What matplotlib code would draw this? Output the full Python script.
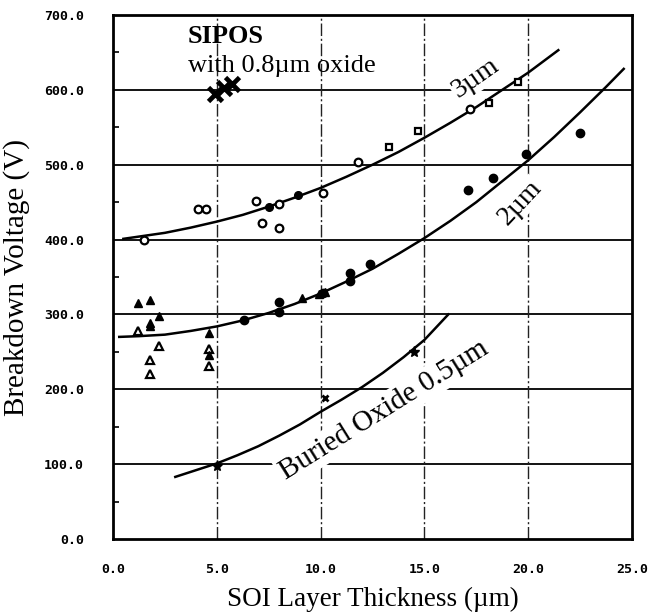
import matplotlib
matplotlib.use("Agg")
import matplotlib.pyplot as plt
from matplotlib.ticker import MultipleLocator

# ---- data ----
# 3 um buried oxide: open circles / squares
t3_circ_x = [1.5, 4.1, 4.5, 6.9, 7.2, 8.0, 8.0, 10.1, 11.8, 17.2]
t3_circ_y = [400, 441, 441, 451, 422, 447, 415, 462, 504, 575]
t3_fill_x = [7.5, 8.9]
t3_fill_y = [444, 459]
t3_sq_x = [13.3, 14.7, 18.1, 19.5]
t3_sq_y = [523, 545, 582, 610]
# 2 um buried oxide: triangles and filled circles
t2_otri_x = [1.2, 2.2, 1.8, 1.8, 4.6, 4.6]
t2_otri_y = [278, 258, 239, 220, 254, 231]
t2_ftri_x = [1.2, 1.8, 1.8, 1.8, 2.2, 4.6, 4.6, 9.1, 9.9, 10.2]
t2_ftri_y = [315, 319, 288, 284, 298, 275, 246, 322, 327, 330]
t2_fcirc_x = [6.3, 8.0, 8.0, 10.1, 11.4, 11.4, 12.4, 17.1, 18.3, 19.9, 22.5]
t2_fcirc_y = [292, 316, 303, 328, 355, 344, 367, 466, 482, 514, 542]
# 0.5 um buried oxide
t05_star_x = [5.0, 14.5]
t05_star_y = [97, 250]
t05_x_x = [10.2]
t05_x_y = [189]
# SIPOS with 0.8 um oxide
sipos_x = [4.9, 5.35, 5.75]
sipos_y = [595, 603, 608]

# trend curves
fit3_x = [0.5, 1.5, 2.5, 3.75, 5.0, 6.25, 7.5, 8.75, 10.0, 11.25, 12.5,
          13.75, 15.0, 16.25, 17.5, 18.75, 20.0, 21.45]
fit3_y = [401, 405, 409, 416, 424, 433, 444, 456, 469, 484, 500,
          517, 536, 556, 577, 600, 623, 653]
fit2_x = [0.3, 1.25, 2.5, 3.75, 5.0, 6.25, 7.5, 8.75, 10.0, 11.25, 12.5,
          13.75, 15.0, 16.25, 17.5, 18.75, 20.0, 21.25, 22.5, 23.75, 24.6]
fit2_y = [270, 271, 273, 278, 284, 292, 302, 314, 328, 344, 361,
          381, 402, 425, 450, 478, 506, 537, 570, 604, 628]
fit05_x = [3.0, 4.0, 5.0, 6.0, 7.0, 8.0, 9.0, 10.0, 11.0, 12.0, 13.0,
           14.0, 15.0, 16.15]
fit05_y = [83, 92, 101, 112, 124, 138, 153, 170, 186, 203, 222,
           243, 266, 300]

xticks = [0, 5, 10, 15, 20, 25]
yticks = [0, 100, 200, 300, 400, 500, 600, 700]

serif = ["Liberation Serif", "DejaVu Serif"]

fig = plt.figure(figsize=(6.54, 6.14), dpi=100)
ax = fig.add_axes([0.1728, 0.1221, 0.7936, 0.8535])
ax.set_xlim(0, 25)
ax.set_ylim(0, 700)

# grid
for yv in yticks[1:-1]:
    ax.axhline(yv, color="black", lw=1.3, zorder=1)
for xv in xticks[1:-1]:
    ax.axvline(xv, color="#222222", lw=1.0, ls=(0, (9, 2, 1.5, 2)), zorder=1)

# curves
ax.plot(fit3_x, fit3_y, color="black", lw=1.8, zorder=4)
ax.plot(fit2_x, fit2_y, color="black", lw=1.8, zorder=4)
ax.plot(fit05_x, fit05_y, color="black", lw=1.8, zorder=4)

# markers
ax.plot(t3_circ_x, t3_circ_y, "o", ms=5.5, mfc="white", mec="black", mew=1.6, zorder=5)
ax.plot(t3_fill_x, t3_fill_y, "o", ms=5.5, mfc="black", mec="black", zorder=5)
ax.plot(t3_sq_x, t3_sq_y, "s", ms=5, mfc="white", mec="black", mew=1.6, zorder=5)
ax.plot(t2_otri_x, t2_otri_y, "^", ms=6, mfc="white", mec="black", mew=1.6, zorder=5)
ax.plot(t2_ftri_x, t2_ftri_y, "^", ms=6, mfc="black", mec="black", zorder=5)
ax.plot(t2_fcirc_x, t2_fcirc_y, "o", ms=6, mfc="black", mec="black", zorder=5)
ax.plot(t05_star_x, t05_star_y, "*", ms=8, mfc="black", mec="black", zorder=5)
ax.plot(t05_x_x, t05_x_y, "x", ms=5, mec="black", mew=2, zorder=5)
ax.plot(sipos_x, sipos_y, "x", ms=9.5, mec="black", mew=3.4, zorder=5)

# annotations
ax.text(3.61, 662, "SIPOS", family=serif, fontweight="bold", fontsize=19,
        ha="left", va="baseline", zorder=3)
ax.text(3.61, 624, "with 0.8\u00b5m oxide", family=serif, fontsize=19,
        ha="left", va="baseline", zorder=3)
ax.text(17.47, 616, "3\u00b5m", family=serif, fontsize=20, rotation=35,
        ha="center", va="center", rotation_mode="anchor", zorder=3,
        bbox=dict(facecolor="white", edgecolor="none", pad=1))
ax.text(19.6, 449, "2\u00b5m", family=serif, fontsize=20, rotation=47,
        ha="center", va="center", rotation_mode="anchor", zorder=3,
        bbox=dict(facecolor="white", edgecolor="none", pad=1))
ax.text(13.05, 172, "Buried Oxide 0.5\u00b5m", family=serif, fontsize=21, rotation=32,
        ha="center", va="center", rotation_mode="anchor", zorder=3,
        bbox=dict(facecolor="white", edgecolor="none", pad=2))

# axes styling
for s in ax.spines.values():
    s.set_linewidth(2.0)
    s.set_color("black")
ax.set_xticks(xticks)
ax.set_yticks(yticks)
ax.set_xticklabels([f"{v:.1f}" for v in xticks])
ax.set_yticklabels([f"{v:.1f}" for v in yticks])
ax.yaxis.set_minor_locator(MultipleLocator(50))
ax.tick_params(axis="both", which="major", length=0, pad=10)
ax.tick_params(axis="y", which="minor", direction="in", length=4, width=1.2, left=True)
ax.tick_params(axis="y", which="major", pad=21)
ax.tick_params(axis="x", which="major", pad=17)
for lab in ax.get_xticklabels() + ax.get_yticklabels():
    lab.set_family(["DejaVu Sans Mono"])
    lab.set_fontweight("bold")
    lab.set_fontsize(9.5)

ax.set_xlabel("SOI Layer Thickness (\u00b5m)", family=serif, fontsize=19.5, labelpad=8)
ax.set_ylabel("Breakdown Voltage (V)", family=serif, fontsize=21, labelpad=10)

fig.savefig("out.png", dpi=100)
